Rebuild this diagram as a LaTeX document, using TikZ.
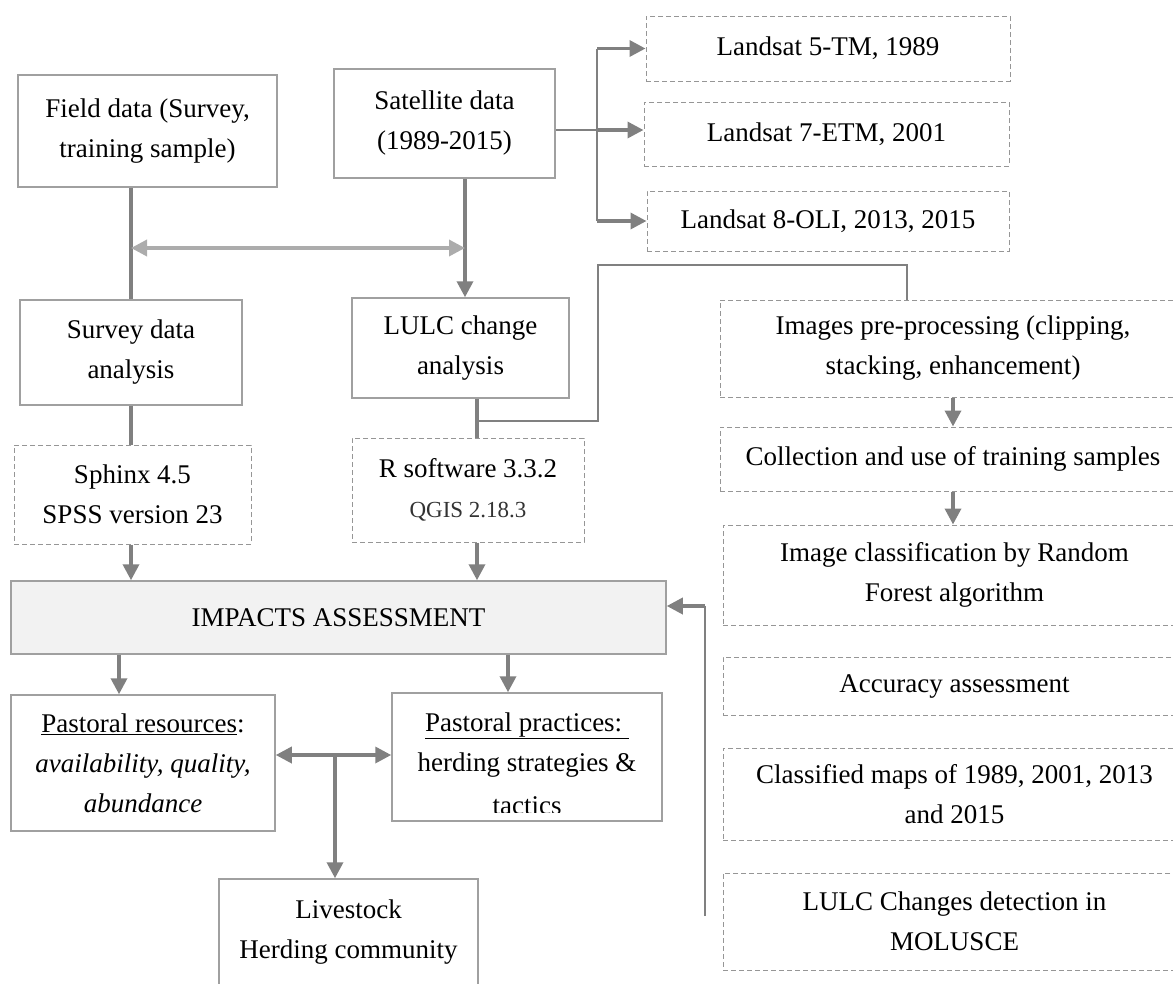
\documentclass[tikz,border=0pt]{standalone}
\usepackage{fontspec}
\setmainfont{Liberation Serif}
\usetikzlibrary{arrows.meta}
\definecolor{linegray}{RGB}{128,128,128}
\definecolor{boxgray}{RGB}{160,160,160}
\definecolor{dashgray}{RGB}{150,150,150}
\definecolor{palegray}{RGB}{172,172,172}
\definecolor{impfill}{RGB}{242,242,242}
\begin{document}
\begin{tikzpicture}[x=1pt,y=-1pt,>={Triangle[length=16pt,width=16pt]},
    txt/.style={font=\fontsize{27}{40}\selectfont,align=center,inner sep=0pt},
    solidbox/.style={txt,draw=boxgray,line width=1.5pt},
    dashbox/.style={txt,draw=dashgray,line width=1pt,dash pattern=on 5pt off 3pt},
    thickline/.style={draw=linegray,line width=3.5pt},
    thinline/.style={draw=linegray,line width=1.5pt},
    paleline/.style={draw=palegray,line width=3.5pt}]
                \useasboundingbox (0,0) rectangle (1173,983);
                \node[solidbox,minimum width=259pt,minimum height=112pt] (field) at (147.5,131) {Field data (Survey,\\training sample)};
                \node[solidbox,minimum width=221pt,minimum height=109pt] (sat) at (444.5,123.5) {Satellite data\\(1989-2015)};
                \node[solidbox,minimum width=222pt,minimum height=105pt] (survey) at (131,352.5) {Survey data\\analysis};
                \node[solidbox,minimum width=217pt,minimum height=100pt] (lulc) at (460.5,348) {LULC change\\analysis};
                \node[dashbox,minimum width=364pt,minimum height=65pt] (l5) at (828,48.5) {Landsat 5-TM, 1989};
                \node[dashbox,minimum width=365pt,minimum height=64pt] (l7) at (826.5,134) {Landsat 7-ETM, 2001};
                \node[dashbox,minimum width=362pt,minimum height=60pt] (l8) at (828,221) {Landsat 8-OLI, 2013, 2015};
                \node[dashbox,minimum width=237pt,minimum height=99pt] (sphinx) at (132.5,494.5) {Sphinx 4.5\\SPSS version 23};
                \node[dashbox,minimum width=232pt,minimum height=104pt] (rsoft) at (468,490) {R software 3.3.2\\{\fontsize{23}{40}\selectfont\color{black!80}QGIS 2.18.3}};
                \node[solidbox,fill=impfill,minimum width=655pt,minimum height=73pt] (impacts) at (338.5,617.5) {IMPACTS ASSESSMENT};
                \node[solidbox,minimum width=264pt,minimum height=136pt] (pres) at (143,763) {\underline{Pastoral resources}:\\\textit{availability, quality,}\\\textit{abundance}};
                \node[solidbox,minimum width=270pt,minimum height=128pt] (pprac) at (527,757) {};
                \node[txt] (ppractext) at (527,745) {\underline{Pastoral practices:\ }\\herding strategies \&};
                \begin{scope}
                    \clip (392,693) rectangle (662,812.5);
                    \node[txt,anchor=base] (tactics) at (527,814) {tactics};
                \end{scope}
                \node[solidbox,minimum width=259pt,minimum height=107pt] (live) at (348.5,932.5) {Livestock\\Herding community};
                \node[dashbox,minimum width=466pt,minimum height=97pt] (prep) at (953,348.5) {Images pre-processing (clipping,\\stacking, enhancement)};
                \node[dashbox,minimum width=466pt,minimum height=64pt] (coll) at (953,459) {Collection and use of training samples};
                \node[dashbox,minimum width=463pt,minimum height=100pt] (iclass) at (954.5,575) {Image classification by Random\\Forest algorithm};
                \node[dashbox,minimum width=463pt,minimum height=58pt] (acc) at (954.5,686) {Accuracy assessment};
                \node[dashbox,minimum width=463pt,minimum height=92pt] (cmaps) at (954.5,794) {Classified maps of 1989, 2001, 2013\\and 2015};
                \node[dashbox,minimum width=463pt,minimum height=97pt] (molusce) at (954.5,921.5) {LULC Changes detection in\\MOLUSCE};
                \coordinate (hub) at (465,248);
                \coordinate (tap) at (477,421);
                \coordinate (bend) at (598,265);
                \coordinate (fork) at (597,130);
                \coordinate (mid) at (335,755);
                \coordinate (fbtop) at (705,606);
                \coordinate (fbend) at (705,916);
                \draw[thickline] (survey.north |- field.south) -- (survey.north);
                \draw[thickline,->] (sat.south -| hub) -- (lulc.north -| hub);
                \draw[paleline,<->] (survey.north |- hub) -- (hub);
                \draw[thickline] (survey.south) -- (survey.south |- sphinx.north);
                \draw[thickline,->] (survey.south |- sphinx.south) -- (survey.south |- impacts.north);
                \draw[thickline] (lulc.south -| tap) -- (rsoft.north -| tap);
                \draw[thickline,->] (rsoft.south -| tap) -- (impacts.north -| tap);
                \draw[thinline] (tap) -| (bend) -| ([xshift=-46pt]prep.north);
                \draw[thinline] (sat.east |- fork) -- (fork);
                \draw[thinline] (fork |- l5.west) -- (fork |- l8.west);
                \draw[thickline,->] (fork |- l5.west) -- (l5.west);
                \draw[thickline,->] (fork) -- (l7.west |- fork);
                \draw[thickline,->] (fork |- l8.west) -- (l8.west);
                \draw[thickline,->] (prep.south) -- (coll.north);
                \draw[thickline,->] (coll.south) -- (coll.south |- iclass.north);
                \draw[thickline,->] ([xshift=-24pt]pres.north |- impacts.south) -- ([xshift=-24pt]pres.north);
                \draw[thickline,->] ([xshift=-19pt]pprac.north |- impacts.south) -- ([xshift=-19pt]pprac.north);
                \draw[thickline,<->] (pres.east |- mid) -- (pprac.west |- mid);
                \draw[thickline,->] (mid) -- (live.north -| mid);
                \draw[thinline] (fbend) -- (fbtop);
                \draw[thickline,->] (fbtop) -- (impacts.east |- fbtop);
\end{tikzpicture}
\end{document}
